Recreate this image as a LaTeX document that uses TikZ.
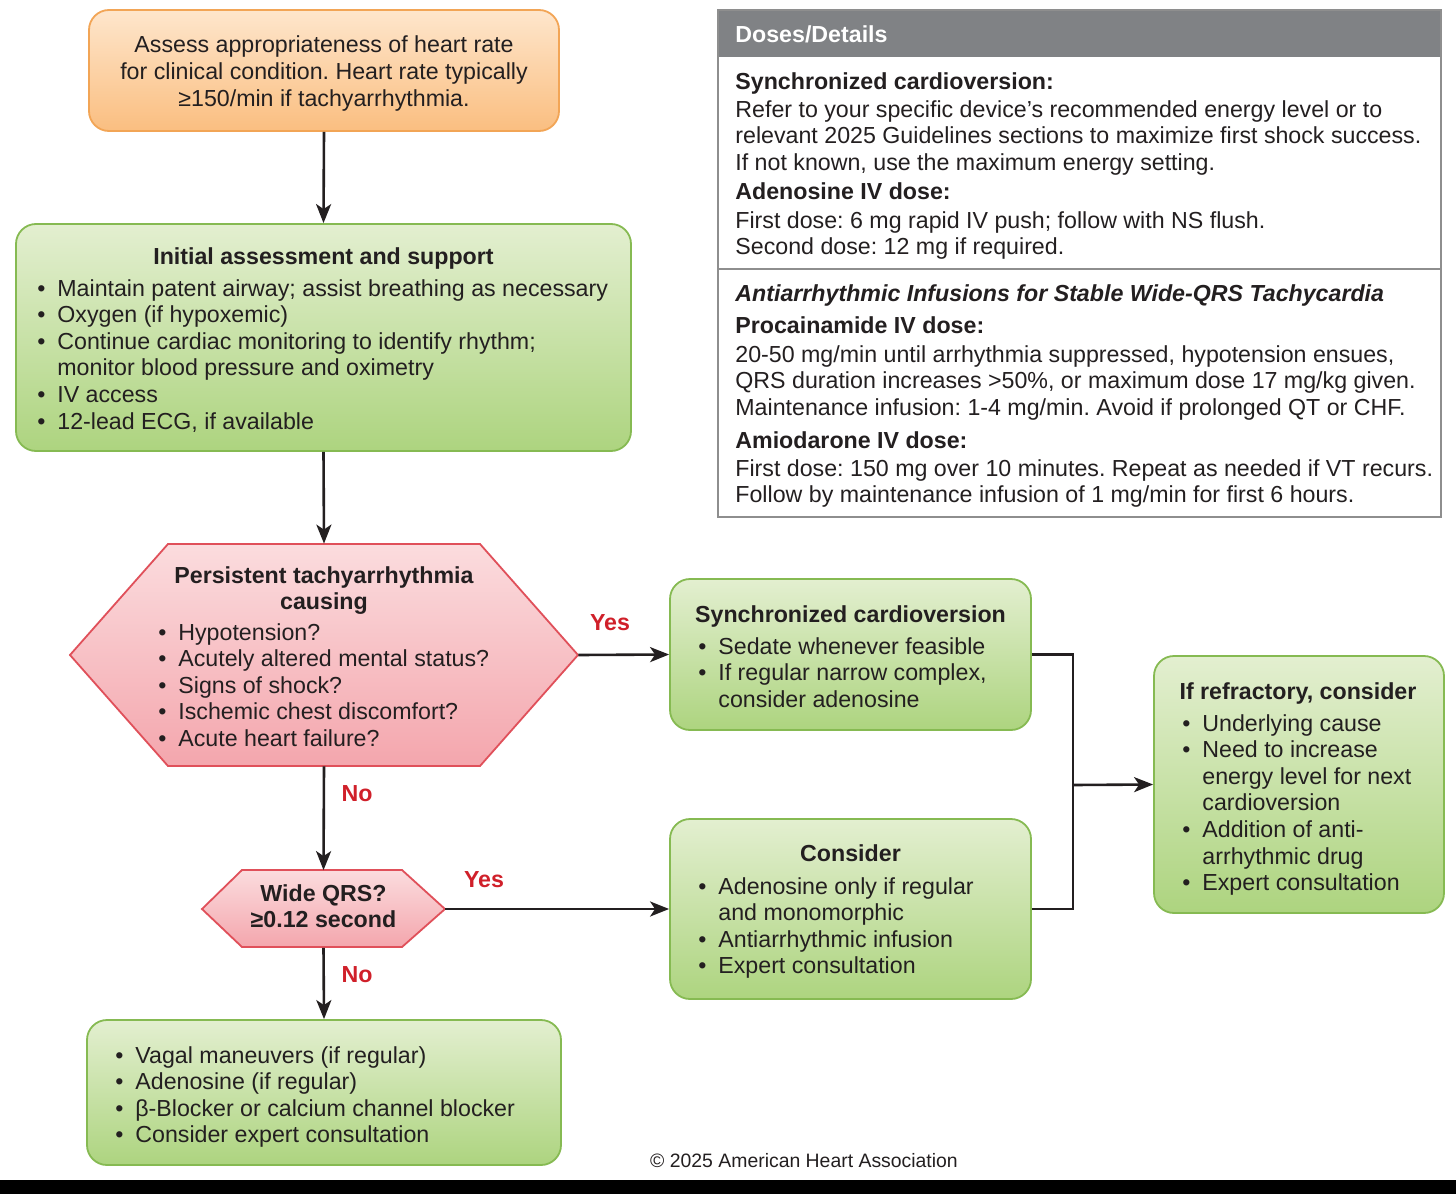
\documentclass[tikz,border=0pt]{standalone}
\usepackage{fontspec}
\setmainfont{Liberation Sans}
\usetikzlibrary{arrows.meta}
\frenchspacing
\definecolor{txt}{HTML}{231F20}
\definecolor{oT}{HTML}{FEE6CC}
\definecolor{oB}{HTML}{FABE80}
\definecolor{oD}{HTML}{F2A556}
\definecolor{gT}{HTML}{E3EFD0}
\definecolor{gB}{HTML}{ADD47F}
\definecolor{gD}{HTML}{86BA52}
\definecolor{pT}{HTML}{FBDCDE}
\definecolor{pB}{HTML}{F4A6AD}
\definecolor{pD}{HTML}{E0505A}
\definecolor{redl}{HTML}{D0202A}
\definecolor{hdr}{HTML}{808285}
\definecolor{frm}{HTML}{8E8E8E}
\newcommand{\bul}{\makebox[10pt][l]{\textbullet}}
\newcommand{\ind}{\hspace*{10pt}}
\newcommand{\LB}[1]{\begin{tabular}[t]{@{}l@{}}#1\end{tabular}}
\newcommand{\CB}[1]{\begin{tabular}[t]{@{}c@{}}#1\end{tabular}}
\tikzset{
  txtn/.style={inner sep=0pt, text=txt, font=\fontsize{11.6}{13.3}\selectfont},
  txtb/.style={inner sep=0pt, text=txt, font=\fontsize{11.6}{13.3}\selectfont\bfseries},
  lbl/.style={inner sep=0pt, text=redl, font=\fontsize{11.6}{13.3}\selectfont\bfseries},
  gbox/.style={draw=gD, line width=0.9pt, rounded corners=10pt, top color=gT, bottom color=gB, inner sep=0pt},
  obox/.style={draw=oD, line width=0.9pt, rounded corners=10pt, top color=oT, bottom color=oB, inner sep=0pt},
  hexs/.style={draw=pD, line width=0.9pt, top color=pT, bottom color=pB},
  ghost/.style={inner sep=0pt, draw=none},
  conn/.style={line width=1.3pt, draw=txt, -{Stealth[length=9.5pt,width=7.5pt,inset=2.5pt]}},
  plain/.style={line width=1.3pt, draw=txt},
}
\begin{document}
\begin{tikzpicture}[x=0.5pt,y=-0.5pt]
\useasboundingbox (0,0) rectangle (1456,1194);
\fill[white] (0,0) rectangle (1456,1194);
\fill[black] (0,1180) rectangle (1456,1194);

% Orange box
\node[obox, minimum width=235pt, minimum height=60.5pt] (assess) at (324,70.5) {};
\node[txtn, anchor=base] (assessT) at (324,52) {\CB{Assess appropriateness of heart rate\\[0.2pt]for clinical condition. Heart rate typically\\[0.2pt]≥150/min if tachyarrhythmia.}};

% Initial assessment
\node[gbox, minimum width=307.5pt, minimum height=113.5pt] (init) at (323.5,337.5) {};
\node[txtb, anchor=base] (initH) at (323.5,264) {Initial assessment and support};
\node[txtn, anchor=base west] (initL) at (37,296) {\LB{\bul Maintain patent airway; assist breathing as necessary\\ \bul Oxygen (if hypoxemic)\\ \bul Continue cardiac monitoring to identify rhythm;\\ \ind monitor blood pressure and oximetry\\ \bul IV access\\ \bul 12-lead ECG, if available}};

% Hexagon A
\node[ghost, minimum width=254pt, minimum height=111pt] (hexA) at (324,655) {};
\draw[hexs] (70,655)--(168,544)--(480,544)--(578,655)--(480,766)--(168,766)--cycle;
\node[txtb, anchor=base] (hexAH) at (324,583) {\CB{Persistent tachyarrhythmia\\causing}};
\node[txtn, anchor=base west] (hexAL) at (158,640) {\LB{\bul Hypotension?\\ \bul Acutely altered mental status?\\ \bul Signs of shock?\\ \bul Ischemic chest discomfort?\\ \bul Acute heart failure?}};

% Hexagon B
\node[ghost, minimum width=121pt, minimum height=38.5pt] (hexB) at (323.5,909) {};
\draw[hexs] (202,909)--(242,870)--(402,870)--(445,909)--(402,947)--(242,947)--cycle;
\node[txtb, anchor=base] (hexBT) at (323.5,901) {\CB{Wide QRS?\\≥0.12 second}};

% Synchronized cardioversion
\node[gbox, minimum width=180.5pt, minimum height=75.5pt] (sync) at (850.5,654.5) {};
\node[txtb, anchor=base] (syncH) at (850.5,622) {Synchronized cardioversion};
\node[txtn, anchor=base west] (syncL) at (698,654) {\LB{\bul Sedate whenever feasible\\ \bul If regular narrow complex,\\ \ind consider adenosine}};

% Consider
\node[gbox, minimum width=180.5pt, minimum height=90pt] (cons) at (850.5,909) {};
\node[txtb, anchor=base] (consH) at (850.5,861) {Consider};
\node[txtn, anchor=base west] (consL) at (698,894) {\LB{\bul Adenosine only if regular\\ \ind and monomorphic\\ \bul Antiarrhythmic infusion\\ \bul Expert consultation}};

% Refractory
\node[gbox, minimum width=145pt, minimum height=128.5pt] (refr) at (1299,784.5) {};
\node[txtb, anchor=base] (refrH) at (1298,699) {If refractory, consider};
\node[txtn, anchor=base west] (refrL) at (1182,731) {\LB{\bul Underlying cause\\ \bul Need to increase\\ \ind energy level for next\\ \ind cardioversion\\ \bul Addition of anti-\\ \ind arrhythmic drug\\ \bul Expert consultation}};

% Bottom box
\node[gbox, minimum width=237pt, minimum height=72.5pt] (vagal) at (324,1092.5) {};
\node[txtn, anchor=base west] (vagalL) at (115,1063) {\LB{\bul Vagal maneuvers (if regular)\\ \bul Adenosine (if regular)\\ \bul β-Blocker or calcium channel blocker\\ \bul Consider expert consultation}};

% Doses/Details
\node[ghost, minimum width=361.5pt, minimum height=253.5pt] (doses) at (1079.5,263.5) {};
\fill[hdr] (718,10) rectangle (1441,57);
\draw[frm, line width=0.8pt] (718,10) rectangle (1441,517);
\draw[frm, line width=0.8pt] (718,269) -- (1441,269);
\node[inner sep=0pt, text=white, font=\fontsize{11.6}{13.3}\selectfont\bfseries, anchor=base west] (dosesH) at (735,42) {Doses/Details};
\node[txtn, anchor=base west] (dosesA) at (735,89) {\LB{\textbf{Synchronized cardioversion:}\\[0.7pt]
Refer to your specific device’s recommended energy level or to\\
relevant 2025 Guidelines sections to maximize first shock success.\\
If not known, use the maximum energy setting.\\[1.2pt]
\textbf{Adenosine IV dose:}\\[1.2pt]
First dose: 6 mg rapid IV push; follow with NS flush.\\
Second dose: 12 mg if required.}};
\node[txtn, anchor=base west] (dosesB) at (735,301) {\LB{\textbf{\itshape Antiarrhythmic Infusions for Stable Wide-QRS Tachycardia}\\[2.7pt]
\textbf{Procainamide IV dose:}\\[1.2pt]
20-50 mg/min until arrhythmia suppressed, hypotension ensues,\\
QRS duration increases >50\%, or maximum dose 17 mg/kg given.\\
Maintenance infusion: 1-4 mg/min. Avoid if prolonged QT or CHF.\\[3.2pt]
\textbf{Amiodarone IV dose:}\\[0.7pt]
First dose: 150 mg over 10 minutes. Repeat as needed if VT recurs.\\
Follow by maintenance infusion of 1 mg/min for first 6 hours.}};

% Copyright
\node[inner sep=0pt, text=txt, font=\fontsize{9.7}{11}\selectfont, anchor=base] (copy) at (804,1167) {© 2025 American Heart Association};

% Connectors
\draw[conn] (assess.south) -- (init.north);
\draw[conn] (init.south) -- (hexA.north);
\draw[conn] (hexA.east) -- (sync.west);
\draw[conn] (hexA.south) -- (hexB.north);
\draw[conn] (hexB.east) -- (cons.west);
\draw[conn] (hexB.south) -- (vagal.north);
\coordinate (junc) at (1073,785);
\draw[plain] (sync.east) -| (junc) |- (cons.east);
\draw[conn] (junc) -- (refr.west);

% Labels
\node[lbl] (yes1) at (610,623) {Yes};
\node[lbl] (yes2) at (484,880) {Yes};
\node[lbl] (no1) at (357,794) {No};
\node[lbl] (no2) at (357,975) {No};
\end{tikzpicture}
\end{document}
